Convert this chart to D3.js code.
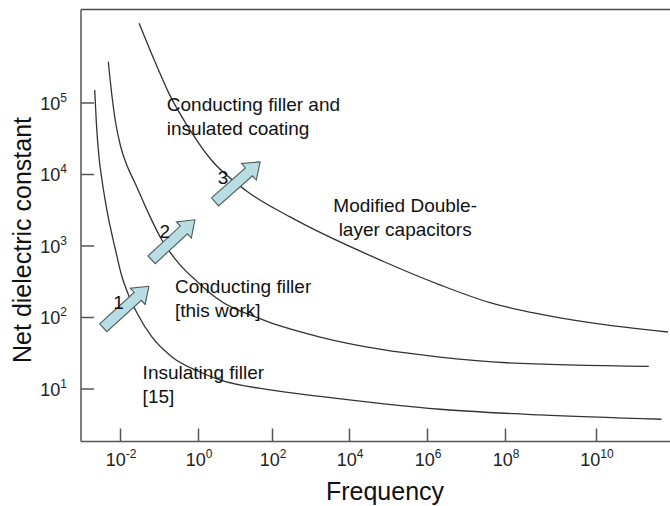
<!DOCTYPE html>
<html>
<head>
<meta charset="utf-8">
<script src="https://cdn.jsdelivr.net/npm/d3@7/dist/d3.min.js"></script>
<style>
  html, body { margin: 0; padding: 0; background: #fff; }
  svg { display: block; font-family: "Liberation Sans", Arial, Helvetica, sans-serif; }
</style>
</head>
<body>
<svg id="chart" width="670" height="506"></svg>
<script>
// ---- data (log10 of frequency, log10 of net dielectric constant) ----
const xTickExponents = [-2, 0, 2, 4, 6, 8, 10];
const yTickExponents = [1, 2, 3, 4, 5];

const insulatingLogF   = [-2.649, -2.603, -2.544, -2.462, -2.359, -2.244, -2.115, -1.962, -1.782, -1.564, -1.187, -0.674, 0.10, 0.59, 1.95, 3.25, 6.33, 8.77, 11.44];
const insulatingLogEps = [ 5.175,  4.685,  4.266,  3.916,  3.566,  3.245,  2.937,  2.587,  2.308,  2.056,  1.724,  1.444, 1.22, 1.12, 0.98, 0.89, 0.71, 0.63,  0.57];

const conductingLogF   = [-2.30, -2.218, -2.115, -1.987, -1.821, -1.615, -1.27, -0.93, -0.51, 0.01, 0.46, 1.76, 3.25, 4.79, 6.33, 8.04, 11.16];
const conductingLogEps = [ 5.57,  5.147,  4.727,  4.392,  4.119,  3.874,  3.45,  3.08,  2.76, 2.48, 2.28, 1.96, 1.72, 1.55, 1.44, 1.36,  1.31];

const coatedLogF   = [-1.51, -1.11, -0.72, -0.29, 0.32, 1.32, 2.47, 4.87, 6.33, 7.62, 8.77, 9.87, 11.58];
const coatedLogEps = [ 6.11,  5.58,  5.10,  4.69, 4.22, 3.76, 3.40, 2.78, 2.45, 2.20, 2.04, 1.92,  1.79];

// progression arrows: tail -> head
const arrowNames     = ["1", "2", "3"];
const arrowTailLogF  = [-2.43, -1.19, 0.46];
const arrowTailLogE  = [ 1.85,  2.80, 3.61];
const arrowHeadLogF  = [-1.26, -0.08, 1.68];
const arrowHeadLogE  = [ 2.43,  3.36, 4.17];
const arrowLabelLogF = [-2.04, -0.85, 0.68];
const arrowLabelLogE = [ 2.21,  3.20, 3.96];

// region notes
const noteLines  = [["Conducting filler and", "insulated coating"],
                    ["Modified Double-", "layer capacitors"],
                    ["Conducting filler", "[this work]"],
                    ["Insulating filler", "[15]"]];
const noteLogF   = [-0.80, 5.44, -0.59, -1.42];
const noteLogE   = [ 4.88, 3.47,  2.33,  1.13];
const noteAnchor = ["start", "middle", "start", "start"];

// ---- layout ----
const plotLeft = 81, plotTop = 9.5, plotBottom = 441.5, plotRight = 670;

const svg = d3.select("#chart");
const p10 = e => Math.pow(10, e);

// frequency axis with decade stops placed along the axis
const x = d3.scaleLog()
  .domain(xTickExponents.map(p10))
  .range([120, 198, 272, 349, 427, 505, 596]);

const y = d3.scaleLog()
  .domain([p10(1), p10(5)])
  .range([388.5, 102.5]);

// frame: top border, left and bottom axes
svg.append("line").attr("x1", plotLeft).attr("x2", plotRight).attr("y1", plotTop).attr("y2", plotTop)
  .attr("stroke", "#4a4a4a").attr("stroke-width", 1.6);

const xAxis = d3.axisBottom(x).tickValues(xTickExponents.map(p10))
  .tickSize(-13).tickSizeOuter(0).tickFormat("");
const gx = svg.append("g").attr("transform", `translate(0,${plotBottom})`).call(xAxis);
gx.select(".domain").attr("d", `M${plotLeft},0H${plotRight}`);

const yAxis = d3.axisLeft(y).tickValues(yTickExponents.map(p10))
  .tickSize(-13).tickSizeOuter(0).tickFormat("");
const gy = svg.append("g").attr("transform", `translate(${plotLeft},0)`).call(yAxis);
gy.select(".domain").attr("d", `M0,${plotTop}V${plotBottom}`);

svg.selectAll(".domain, .tick line").attr("stroke", "#555").attr("stroke-width", 1.5);

// tick labels as powers of ten
xTickExponents.forEach(e => {
  const t = svg.append("text")
    .attr("x", x(p10(e)) + 1).attr("y", plotBottom + 24)
    .attr("text-anchor", "middle").attr("font-size", 18).attr("fill", "#222");
  t.append("tspan").text("10");
  t.append("tspan").attr("dy", -8).attr("font-size", 12).text(e);
});
yTickExponents.forEach(e => {
  const t = svg.append("text")
    .attr("x", 67).attr("y", y(p10(e)) + 7)
    .attr("text-anchor", "end").attr("font-size", 18).attr("fill", "#222");
  t.append("tspan").text("10");
  t.append("tspan").attr("dy", -8).attr("font-size", 12).text(e);
});

// axis titles
svg.append("text").attr("x", 385).attr("y", 500)
  .attr("text-anchor", "middle").attr("font-size", 25).attr("fill", "#111")
  .text("Frequency");
svg.append("text").attr("transform", "translate(31,240) rotate(-90)")
  .attr("text-anchor", "middle").attr("font-size", 25).attr("fill", "#111")
  .text("Net dielectric constant");

// curves
const line = d3.line()
  .x(d => x(p10(d[0])))
  .y(d => y(p10(d[1])))
  .curve(d3.curveMonotoneX);

const curves = [
  d3.zip(insulatingLogF, insulatingLogEps),
  d3.zip(conductingLogF, conductingLogEps),
  d3.zip(coatedLogF, coatedLogEps)
];
svg.append("g").selectAll("path").data(curves).join("path")
  .attr("d", line)
  .attr("fill", "none").attr("stroke", "#333").attr("stroke-width", 1.3);

// block arrows
const shaftHalf = 5.3, headHalf = 11, headLen = 15;
arrowNames.forEach((name, i) => {
  const x0 = x(p10(arrowTailLogF[i])), y0 = y(p10(arrowTailLogE[i]));
  const x1 = x(p10(arrowHeadLogF[i])), y1 = y(p10(arrowHeadLogE[i]));
  const L = Math.hypot(x1 - x0, y1 - y0);
  const ang = Math.atan2(y1 - y0, x1 - x0) * 180 / Math.PI;
  const pts = [[0, -shaftHalf], [L - headLen, -shaftHalf], [L - headLen, -headHalf], [L, 0],
               [L - headLen, headHalf], [L - headLen, shaftHalf], [0, shaftHalf]];
  svg.append("polygon")
    .attr("points", pts.map(p => p.join(",")).join(" "))
    .attr("transform", `translate(${x0},${y0}) rotate(${ang})`)
    .attr("fill", "#b8dde2").attr("stroke", "#4d5a5c").attr("stroke-width", 1.1)
    .attr("stroke-linejoin", "miter");
  svg.append("text")
    .attr("x", x(p10(arrowLabelLogF[i]))).attr("y", y(p10(arrowLabelLogE[i])) + 7)
    .attr("text-anchor", "middle").attr("font-size", 19).attr("fill", "#111")
    .text(name);
});

// region notes
noteLines.forEach((lines, i) => {
  const t = svg.append("text")
    .attr("x", x(p10(noteLogF[i]))).attr("y", y(p10(noteLogE[i])))
    .attr("text-anchor", noteAnchor[i]).attr("font-size", 19).attr("fill", "#111");
  lines.forEach((s, k) => {
    t.append("tspan").attr("x", x(p10(noteLogF[i]))).attr("dy", k === 0 ? 0 : 24).text(s);
  });
});
</script>
</body>
</html>
